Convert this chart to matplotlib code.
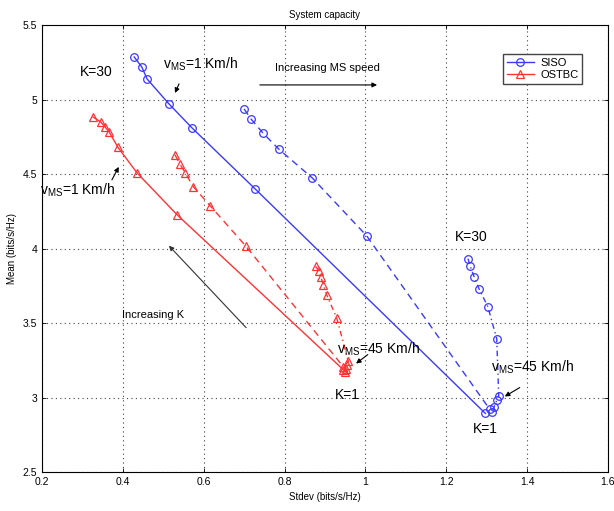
"""System capacity: mean vs stdev for SISO and OSTBC at several MS speeds."""

from __future__ import annotations

import matplotlib

matplotlib.use("Agg")
import matplotlib.pyplot as plt

plt.rcParams["font.family"] = ["Liberation Sans", "DejaVu Sans"]

# SISO, v_MS = 1 Km/h (K = 30 ... 1)
siso_v1_std = [0.428, 0.447, 0.460, 0.514, 0.571, 0.727, 1.297]
siso_v1_mean = [5.286, 5.218, 5.138, 4.971, 4.810, 4.401, 2.893]

# SISO, intermediate speed
siso_mid_std = [0.700, 0.717, 0.747, 0.786, 0.869, 1.003, 1.308]
siso_mid_mean = [4.937, 4.870, 4.774, 4.667, 4.473, 4.086, 2.920]

# SISO, v_MS = 45 Km/h
siso_v45_std = [1.254, 1.259, 1.269, 1.281, 1.303, 1.325, 1.330, 1.325, 1.318, 1.314]
siso_v45_mean = [3.932, 3.885, 3.811, 3.731, 3.610, 3.395, 3.013, 2.980, 2.933, 2.906]

# OSTBC, v_MS = 1 Km/h
ostbc_v1_std = [0.326, 0.345, 0.356, 0.366, 0.388, 0.435, 0.534, 0.945]
ostbc_v1_mean = [4.883, 4.850, 4.816, 4.783, 4.679, 4.508, 4.227, 3.188]

# OSTBC, intermediate speed
ostbc_mid_std = [0.529, 0.541, 0.554, 0.574, 0.616, 0.705, 0.945]
ostbc_mid_mean = [4.629, 4.568, 4.510, 4.416, 4.287, 4.014, 3.208]

# OSTBC, v_MS = 45 Km/h
ostbc_v45_std = [0.877, 0.886, 0.890, 0.896, 0.904, 0.929, 0.958, 0.954, 0.951, 0.949]
ostbc_v45_mean = [3.880, 3.847, 3.808, 3.758, 3.691, 3.535, 3.243, 3.221, 3.194, 3.168]

x_ticks = [0.2, 0.4, 0.6, 0.8, 1.0, 1.2, 1.4, 1.6]
x_tick_labels = ["0.2", "0.4", "0.6", "0.8", "1", "1.2", "1.4", "1.6"]
y_ticks = [2.5, 3.0, 3.5, 4.0, 4.5, 5.0, 5.5]
y_tick_labels = ["2.5", "3", "3.5", "4", "4.5", "5", "5.5"]

BLUE = "#3a3aff"
RED = "#ff3333"
DASHED = (0, (5, 3.5))
DASHDOT = (0, (4, 2.5, 1, 2.5))


def draw(ax) -> None:
    mk = dict(markerfacecolor="none", markersize=5.5, markeredgewidth=0.9, linewidth=1.0)
    ax.plot(siso_v1_std, siso_v1_mean, ls="-", marker="o", color=BLUE, label="SISO", **mk)
    ax.plot(siso_mid_std, siso_mid_mean, ls=DASHED, marker="o", color=BLUE, **mk)
    ax.plot(siso_v45_std, siso_v45_mean, ls=DASHDOT, marker="o", color=BLUE, **mk)
    ax.plot(ostbc_v1_std, ostbc_v1_mean, ls="-", marker="^", color=RED, label="OSTBC", **mk)
    ax.plot(ostbc_mid_std, ostbc_mid_mean, ls=DASHED, marker="^", color=RED, **mk)
    ax.plot(ostbc_v45_std, ostbc_v45_mean, ls=DASHDOT, marker="^", color=RED, **mk)


def annotate(ax) -> None:
    big = dict(fontsize=10, ha="left", va="center")
    arrow = dict(arrowstyle="-|>", color="k", lw=0.8, mutation_scale=7, shrinkA=0, shrinkB=0)
    vms = r"$\mathregular{v_{MS}}$"

    ax.text(0.294, 5.185, "K=30", **big)
    ax.text(0.499, 5.235, vms + "=1 Km/h", **big)
    ax.annotate("", xy=(0.529, 5.044), xytext=(0.539, 5.105), arrowprops=arrow)

    ax.text(0.776, 5.212, "Increasing MS speed", fontsize=8, ha="left", va="center")
    ax.annotate("", xy=(1.029, 5.098), xytext=(0.739, 5.098), arrowprops=arrow)

    ax.text(0.195, 4.39, vms + "=1 Km/h", **big)
    ax.annotate("", xy=(0.390, 4.548), xytext=(0.373, 4.461), arrowprops=arrow)

    ax.text(0.398, 3.556, "Increasing K", fontsize=8, ha="left", va="center")
    ax.annotate("", xy=(0.514, 4.019), xytext=(0.705, 3.469),
                arrowprops=dict(arrow, color="#333333"))

    ax.text(1.2215, 4.079, "K=30", **big)
    ax.text(1.3106, 3.205, vms + "=45 Km/h", **big)
    ax.annotate("", xy=(1.345, 3.007), xytext=(1.382, 3.067), arrowprops=arrow)
    ax.text(1.266, 2.786, "K=1", **big)

    ax.text(0.9297, 3.325, vms + "=45 Km/h", **big)
    ax.annotate("", xy=(0.977, 3.228), xytext=(1.006, 3.288), arrowprops=arrow)
    ax.text(0.9247, 3.02, "K=1", **big)


def main() -> None:
    fig = plt.figure(figsize=(6.14, 5.11), dpi=100)
    ax = fig.add_axes([0.0684, 0.0763, 0.9216, 0.8747])
    draw(ax)
    annotate(ax)

    ax.set_xlim(0.2, 1.6)
    ax.set_ylim(2.5, 5.5)
    ax.set_xticks(x_ticks)
    ax.set_xticklabels(x_tick_labels)
    ax.set_yticks(y_ticks)
    ax.set_yticklabels(y_tick_labels)
    ax.tick_params(direction="in", top=True, right=True, labelsize=7.5, length=3, width=0.6)
    ax.grid(True, linestyle=(0, (1, 3)), color="#444444", linewidth=0.8)
    for s in ax.spines.values():
        s.set_linewidth(0.8)

    ax.set_xlabel("Stdev (bits/s/Hz)", fontsize=7)
    ax.set_ylabel("Mean (bits/s/Hz)", fontsize=7)
    ax.set_title("System capacity", fontsize=7, pad=5)

    ax.legend(loc="upper right", bbox_to_anchor=(0.965, 0.948), fontsize=8, frameon=True,
              fancybox=False, edgecolor="#444444", framealpha=1, handlelength=2.4,
              borderpad=0.35, labelspacing=0.2, handletextpad=0.6)

    fig.savefig("out.png", dpi=100)


if __name__ == "__main__":
    main()
